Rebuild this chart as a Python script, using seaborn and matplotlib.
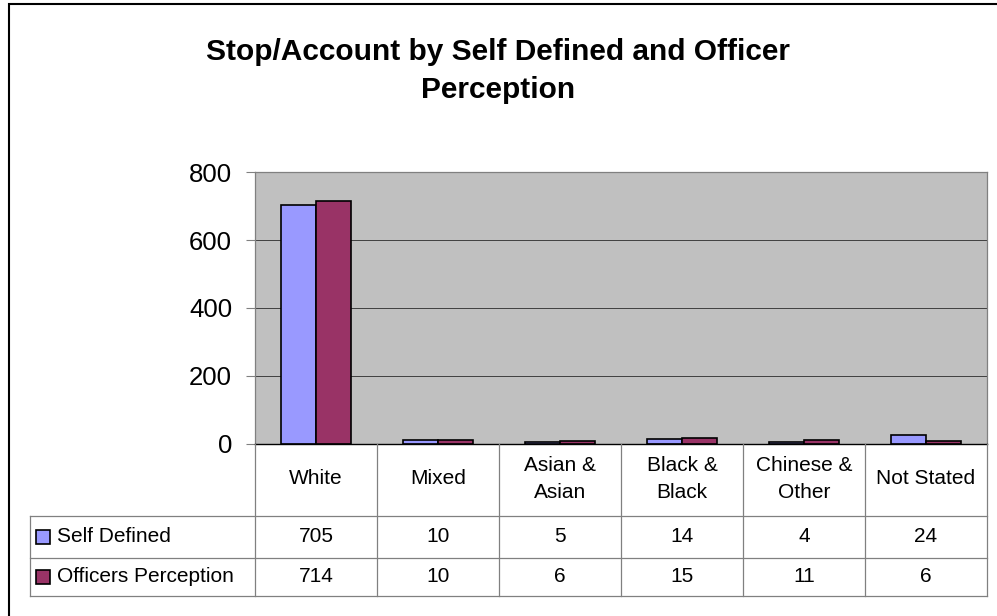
import pandas as pd
import seaborn as sns
import matplotlib.pyplot as plt
import matplotlib.transforms as mtransforms
from matplotlib.patches import Rectangle

# chart data
categories = ['White', 'Mixed', 'Asian &\nAsian', 'Black &\nBlack', 'Chinese &\nOther', 'Not Stated']
series_names = ['Self Defined', 'Officers Perception']
self_defined = [705, 10, 5, 14, 4, 24]
officers_perception = [714, 10, 6, 15, 11, 6]
colors = ['#9999FF', '#993366']
title_lines = ['Stop/Account by Self Defined and Officer', 'Perception']

plt.rcParams['font.family'] = ['Liberation Sans', 'DejaVu Sans']

df = pd.DataFrame({
    'Category': categories * 2,
    'Count': self_defined + officers_perception,
    'Series': [series_names[0]] * len(categories) + [series_names[1]] * len(categories),
})

W, H = 997, 616
fig = plt.figure(figsize=(W / 100, H / 100), dpi=100)
ax = fig.add_axes([255 / W, 1 - 443.5 / H, (987 - 255) / W, (443.5 - 172.3) / H])

sns.barplot(data=df, x='Category', y='Count', hue='Series', palette=colors, saturation=1,
            width=0.574, gap=0, edgecolor='black', linewidth=1.2,
            legend=False, ax=ax, order=categories, hue_order=series_names)

ax.set_facecolor('#C0C0C0')
ax.set_xlim(-0.5, len(categories) - 0.5)
ax.set_ylim(0, 800)
ax.set_yticks([0, 200, 400, 600, 800])
ax.set_xticks([])
ax.set_xlabel('')
ax.set_ylabel('')
ax.tick_params(axis='y', labelsize=18.5, length=6.5, width=0.8, color='#808080', pad=10)
ax.yaxis.grid(True, color='#404040', linewidth=0.7)
ax.set_axisbelow(True)
for side in ['left', 'top', 'right']:
    ax.spines[side].set_color('#808080')
    ax.spines[side].set_linewidth(0.9)
ax.spines['bottom'].set_color('black')
ax.spines['bottom'].set_linewidth(1.0)

# data table under the plot
line_kw = dict(color='#808080', linewidth=0.9, clip_on=False)
fx = lambda px: px / W
fy = lambda py: 1 - py / H
x0, x1 = fx(30), fx(987)
for py in [516, 558, 596]:
    fig.add_artist(plt.Line2D([x0, x1], [fy(py), fy(py)], transform=fig.transFigure, **line_kw))
fig.add_artist(plt.Line2D([x0, x0], [fy(516), fy(596)], transform=fig.transFigure, **line_kw))
blend = mtransforms.blended_transform_factory(ax.transData, fig.transFigure)
for i in range(len(categories) + 1):
    xb = i - 0.5
    fig.add_artist(plt.Line2D([xb, xb], [fy(443.5), fy(596)], transform=blend, **line_kw))

for i, cat in enumerate(categories):
    fig.text(i, fy(479), cat, transform=blend, ha='center', va='center',
             fontsize=15, linespacing=1.5)
    fig.text(i, fy(537), str(self_defined[i]), transform=blend, ha='center', va='center', fontsize=15)
    fig.text(i, fy(577), str(officers_perception[i]), transform=blend, ha='center', va='center', fontsize=15)

for name, col, py in zip(series_names, colors, [537, 577]):
    fig.add_artist(Rectangle((fx(36), fy(py + 7)), 14 / W, 14 / H, facecolor=col,
                             edgecolor='black', linewidth=1.2, transform=fig.transFigure))
    fig.text(fx(57), fy(py), name, ha='left', va='center', fontsize=15)

# title
fig.text(fx(498), fy(60), title_lines[0], ha='center', va='baseline', fontsize=21.5, fontweight='bold')
fig.text(fx(498), fy(98), title_lines[1], ha='center', va='baseline', fontsize=21.5, fontweight='bold')

# outer chart frame
fig.add_artist(Rectangle((fx(9), -0.1), 1.2, fy(4) + 0.1, fill=False, edgecolor='black',
                         linewidth=1.5, transform=fig.transFigure, clip_on=False))

plt.savefig('out.png', dpi=100)
